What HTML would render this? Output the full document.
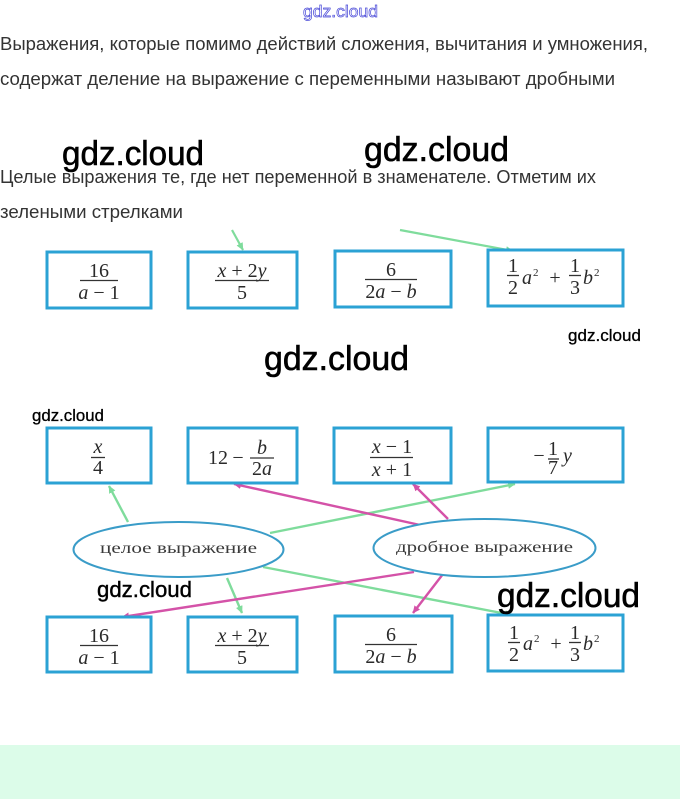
<!DOCTYPE html>
<html>
<head>
<meta charset="utf-8">
<style>
  html,body{margin:0;padding:0;background:#fff;}
  svg{display:block;}
  .body{font-family:"Liberation Sans","DejaVu Sans",sans-serif;font-size:18px;fill:#333;}
  .wm{font-family:"Liberation Sans","DejaVu Sans",sans-serif;fill:#000;stroke:#000;stroke-width:0.6;}
  .m{font-family:"Liberation Serif","DejaVu Serif",serif;font-size:20px;fill:#2a2a2a;}
  .i{font-style:italic;}
  .lbl{font-family:"Liberation Serif","DejaVu Serif",serif;font-size:16px;fill:#3a3a3a;}
</style>
</head>
<body>
<svg width="680" height="799" viewBox="0 0 680 799" xmlns="http://www.w3.org/2000/svg">
  <defs>
    <marker id="ag" markerWidth="8" markerHeight="8" refX="7" refY="4" orient="auto" markerUnits="userSpaceOnUse">
      <path d="M0,0.5 L7.5,4 L0,7.5 Z" fill="#7fdc9c"/>
    </marker>
    <marker id="ap" markerWidth="8" markerHeight="8" refX="7" refY="4" orient="auto" markerUnits="userSpaceOnUse">
      <path d="M0,0.5 L7.5,4 L0,7.5 Z" fill="#d452a8"/>
    </marker>
  </defs>

  <!-- top watermark -->
  <text x="303" y="17" font-family="Liberation Sans, sans-serif" font-size="17" textLength="75" lengthAdjust="spacingAndGlyphs" fill="#ffffff" stroke="#4a4ad8" stroke-width="0.7">gdz.cloud</text>

  <!-- paragraph text -->
  <text x="0" y="50" class="body" textLength="648" lengthAdjust="spacingAndGlyphs">Выражения, которые помимо действий сложения, вычитания и умножения,</text>
  <text x="0" y="85" class="body" textLength="615" lengthAdjust="spacingAndGlyphs">содержат деление на выражение с переменными называют дробными</text>
  <text x="0" y="183" class="body" textLength="596" lengthAdjust="spacingAndGlyphs">Целые выражения те, где нет переменной в знаменателе. Отметим их</text>
  <text x="0" y="218" class="body" textLength="183" lengthAdjust="spacingAndGlyphs">зелеными стрелками</text>

  <!-- big watermarks near text -->
  <text x="62" y="165" class="wm" font-size="34" textLength="142" lengthAdjust="spacingAndGlyphs">gdz.cloud</text>
  <text x="364" y="161" class="wm" font-size="34" textLength="145" lengthAdjust="spacingAndGlyphs">gdz.cloud</text>

  <!-- top partial diagram arrows -->
  <line x1="232" y1="230" x2="243" y2="250" stroke="#7fdc9c" stroke-width="2.2" marker-end="url(#ag)"/>
  <line x1="400" y1="230" x2="513" y2="251" stroke="#7fdc9c" stroke-width="2.2" marker-end="url(#ag)"/>

  <!-- top row boxes -->
  <g fill="#fff" stroke="#2ba2d4" stroke-width="3">
    <rect x="47" y="252" width="104" height="56"/>
    <rect x="188" y="252" width="109" height="56"/>
    <rect x="335" y="251" width="116" height="56"/>
    <rect x="488" y="250" width="135" height="56"/>
  </g>
  <!-- top row content -->
  <g class="m">
    <text x="99" y="277" text-anchor="middle">16</text>
    <line x1="80" y1="280.5" x2="118" y2="280.5" stroke="#333" stroke-width="1.3"/>
    <text x="99" y="299" text-anchor="middle"><tspan class="i">a</tspan> − 1</text>

    <text x="242" y="277" text-anchor="middle"><tspan class="i">x</tspan> + 2<tspan class="i">y</tspan></text>
    <line x1="215" y1="280.5" x2="269" y2="280.5" stroke="#333" stroke-width="1.3"/>
    <text x="242" y="299" text-anchor="middle">5</text>

    <text x="391" y="276" text-anchor="middle">6</text>
    <line x1="365" y1="279.5" x2="417" y2="279.5" stroke="#333" stroke-width="1.3"/>
    <text x="391" y="298" text-anchor="middle">2<tspan class="i">a</tspan> − <tspan class="i">b</tspan></text>

    <text x="513" y="272" text-anchor="middle">1</text>
    <line x1="507" y1="275.5" x2="519" y2="275.5" stroke="#333" stroke-width="1.3"/>
    <text x="513" y="294" text-anchor="middle">2</text>
    <text x="522" y="284" class="i">a</text>
    <text x="533" y="276" font-size="11">2</text>
    <text x="555" y="284" text-anchor="middle">+</text>
    <text x="575" y="272" text-anchor="middle">1</text>
    <line x1="569" y1="275.5" x2="581" y2="275.5" stroke="#333" stroke-width="1.3"/>
    <text x="575" y="294" text-anchor="middle">3</text>
    <text x="583" y="284" class="i">b</text>
    <text x="594" y="276" font-size="11">2</text>
  </g>

  <!-- mid watermarks -->
  <text x="568" y="341" class="wm" font-size="17" textLength="73" lengthAdjust="spacingAndGlyphs" style="stroke-width:0.3">gdz.cloud</text>
  <text x="264" y="370" class="wm" font-size="34" textLength="145" lengthAdjust="spacingAndGlyphs">gdz.cloud</text>
  <text x="32" y="421" class="wm" font-size="17" textLength="72" lengthAdjust="spacingAndGlyphs" style="stroke-width:0.3">gdz.cloud</text>

  <!-- connectors of main diagram -->
  <g stroke-width="2.4" fill="none">
    <line x1="128" y1="522" x2="109" y2="486" stroke="#7fdc9c" marker-end="url(#ag)"/>
    <line x1="270" y1="533" x2="515" y2="484" stroke="#7fdc9c" marker-end="url(#ag)"/>
    <line x1="263" y1="567" x2="512" y2="615" stroke="#7fdc9c" marker-end="url(#ag)"/>
    <line x1="227" y1="578" x2="242" y2="613" stroke="#7fdc9c" marker-end="url(#ag)"/>
    <line x1="420" y1="525" x2="234" y2="484" stroke="#d452a8" marker-end="url(#ap)"/>
    <line x1="448" y1="519" x2="413" y2="484" stroke="#d452a8" marker-end="url(#ap)"/>
    <line x1="414" y1="572" x2="122" y2="617" stroke="#d452a8" marker-end="url(#ap)"/>
    <line x1="443" y1="574" x2="413" y2="613" stroke="#d452a8" marker-end="url(#ap)"/>
  </g>

  <!-- middle row boxes -->
  <g fill="#fff" stroke="#2ba2d4" stroke-width="3">
    <rect x="47" y="428" width="104" height="55"/>
    <rect x="188" y="428" width="109" height="55"/>
    <rect x="334" y="428" width="117" height="55"/>
    <rect x="488" y="428" width="135" height="54"/>
  </g>
  <g class="m">
    <text x="98" y="453" text-anchor="middle" class="i">x</text>
    <line x1="91" y1="457.5" x2="105" y2="457.5" stroke="#333" stroke-width="1.3"/>
    <text x="98" y="474" text-anchor="middle">4</text>

    <text x="218" y="464" text-anchor="middle">12</text>
    <text x="238" y="464" text-anchor="middle">−</text>
    <text x="262" y="454" text-anchor="middle" class="i">b</text>
    <line x1="250" y1="458" x2="274" y2="458" stroke="#333" stroke-width="1.3"/>
    <text x="262" y="475" text-anchor="middle">2<tspan class="i">a</tspan></text>

    <text x="392" y="453" text-anchor="middle"><tspan class="i">x</tspan> − 1</text>
    <line x1="370" y1="457.5" x2="413" y2="457.5" stroke="#333" stroke-width="1.3"/>
    <text x="392" y="476" text-anchor="middle"><tspan class="i">x</tspan> + 1</text>

    <text x="539" y="462" text-anchor="middle">−</text>
    <text x="553" y="455" text-anchor="middle">1</text>
    <line x1="548" y1="459" x2="559" y2="459" stroke="#333" stroke-width="1.3"/>
    <text x="553" y="474" text-anchor="middle">7</text>
    <text x="563" y="462" class="i">y</text>
  </g>

  <!-- ellipses -->
  <ellipse cx="178.5" cy="549.5" rx="105" ry="27.5" fill="#fff" stroke="#3a9cc8" stroke-width="2"/>
  <ellipse cx="484.5" cy="548" rx="111" ry="29" fill="#fff" stroke="#3a9cc8" stroke-width="2"/>
  <text x="100" y="553" class="lbl" textLength="157" lengthAdjust="spacingAndGlyphs">целое выражение</text>
  <text x="396" y="552" class="lbl" textLength="177" lengthAdjust="spacingAndGlyphs">дробное выражение</text>

  <!-- bottom row boxes -->
  <g fill="#fff" stroke="#2ba2d4" stroke-width="3">
    <rect x="47" y="617" width="104" height="55"/>
    <rect x="188" y="617" width="109" height="55"/>
    <rect x="335" y="616" width="117" height="56"/>
    <rect x="488" y="615" width="135" height="56"/>
  </g>
  <g class="m">
    <text x="99" y="642" text-anchor="middle">16</text>
    <line x1="80" y1="645.5" x2="118" y2="645.5" stroke="#333" stroke-width="1.3"/>
    <text x="99" y="664" text-anchor="middle"><tspan class="i">a</tspan> − 1</text>

    <text x="242" y="642" text-anchor="middle"><tspan class="i">x</tspan> + 2<tspan class="i">y</tspan></text>
    <line x1="215" y1="645.5" x2="269" y2="645.5" stroke="#333" stroke-width="1.3"/>
    <text x="242" y="664" text-anchor="middle">5</text>

    <text x="391" y="641" text-anchor="middle">6</text>
    <line x1="365" y1="644.5" x2="417" y2="644.5" stroke="#333" stroke-width="1.3"/>
    <text x="391" y="663" text-anchor="middle">2<tspan class="i">a</tspan> − <tspan class="i">b</tspan></text>

    <text x="514" y="639" text-anchor="middle">1</text>
    <line x1="508" y1="642.5" x2="520" y2="642.5" stroke="#333" stroke-width="1.3"/>
    <text x="514" y="661" text-anchor="middle">2</text>
    <text x="523" y="650" class="i">a</text>
    <text x="534" y="642" font-size="11">2</text>
    <text x="556" y="650" text-anchor="middle">+</text>
    <text x="575" y="639" text-anchor="middle">1</text>
    <line x1="569" y1="642.5" x2="581" y2="642.5" stroke="#333" stroke-width="1.3"/>
    <text x="575" y="661" text-anchor="middle">3</text>
    <text x="583" y="650" class="i">b</text>
    <text x="594" y="642" font-size="11">2</text>
  </g>

  <!-- bottom watermarks -->
  <text x="97" y="597" class="wm" font-size="22" textLength="95" lengthAdjust="spacingAndGlyphs" style="stroke-width:0.4">gdz.cloud</text>
  <text x="497" y="607" class="wm" font-size="34" textLength="143" lengthAdjust="spacingAndGlyphs">gdz.cloud</text>

  <!-- bottom mint band -->
  <rect x="0" y="745" width="680" height="54" fill="#dcfce9"/>
</svg>
</body>
</html>
